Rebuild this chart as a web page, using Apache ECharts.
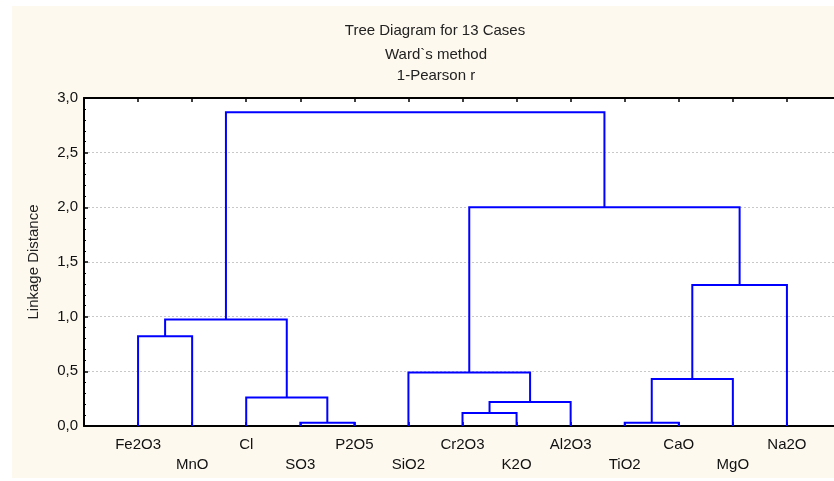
<!DOCTYPE html>
<html>
<head>
<meta charset="utf-8">
<script src="https://cdn.jsdelivr.net/npm/echarts@6/dist/echarts.min.js"></script>
<style>
  html, body { margin: 0; padding: 0; background: #ffffff; }
  #chart { width: 834px; height: 481px; }
</style>
</head>
<body>
<div id="chart"></div>
<script>
// Leaves in dendrogram order
const leaves = ['Fe2O3', 'MnO', 'Cl', 'SO3', 'P2O5', 'SiO2', 'Cr2O3', 'K2O', 'Al2O3', 'TiO2', 'CaO', 'MgO', 'Na2O'];

// Agglomeration steps: ids 0..12 are leaves, each merge creates id 13, 14, ...
const mergeLeft   = [3, 9, 6, 15, 2, 14, 5, 0, 20, 18, 19, 21];
const mergeRight  = [4, 10, 7, 8, 13, 11, 16, 1, 17, 12, 22, 23];
const mergeHeight = [0.03, 0.03, 0.12, 0.22, 0.26, 0.43, 0.49, 0.82, 0.975, 1.29, 2.0, 2.87];

const yTicks = [0, 0.5, 1.0, 1.5, 2.0, 2.5, 3.0];

// Position of every node: leaves sit at 1..n, clusters midway between children
const nodeX = leaves.map((_, i) => i + 1);
const nodeH = leaves.map(() => 0);
const links = [];
mergeLeft.forEach((l, k) => {
  const r = mergeRight[k];
  const h = mergeHeight[k];
  links.push([nodeX[l], nodeH[l], nodeX[r], nodeH[r], h]);
  nodeX.push((nodeX[l] + nodeX[r]) / 2);
  nodeH.push(h);
});

const chart = echarts.init(document.getElementById('chart'), null, { renderer: 'canvas' });
const FONT = 'Liberation Sans, Arial, sans-serif';
const FS = 15;

const gridBox = { left: 84, top: 98, width: 757, height: 328, outerBoundsMode: 'none', containLabel: false };

chart.setOption({
  backgroundColor: '#ffffff',
  animation: false,
  graphic: [
    { type: 'rect', z: -10, shape: { x: 12, y: 6, width: 830, height: 472 }, style: { fill: '#fdf9ef' } },
    { type: 'rect', z: -9, shape: { x: gridBox.left, y: gridBox.top, width: gridBox.width, height: gridBox.height }, style: { fill: '#ffffff' } },
    { type: 'text', x: 435, y: 31, style: { text: 'Tree Diagram for 13 Cases', font: FS + 'px ' + FONT, fill: '#222', align: 'center', verticalAlign: 'middle' } },
    { type: 'text', x: 436, y: 55, style: { text: 'Ward`s method', font: FS + 'px ' + FONT, fill: '#222', align: 'center', verticalAlign: 'middle' } },
    { type: 'text', x: 436, y: 76, style: { text: '1-Pearson r', font: FS + 'px ' + FONT, fill: '#222', align: 'center', verticalAlign: 'middle' } }
  ],
  grid: gridBox,
  xAxis: [
    {
      type: 'value', position: 'bottom', min: 0, max: leaves.length + 1, interval: 1,
      axisLine: { show: true, lineStyle: { color: '#000', width: 2 } },
      axisTick: { show: true, inside: true, length: 4, lineStyle: { color: '#000', width: 1.5 } },
      splitLine: { show: false },
      axisLabel: {
        margin: 9, fontFamily: FONT, fontSize: FS, color: '#111', lineHeight: 20,
        showMinLabel: true, showMaxLabel: true,
        formatter: v => {
          const name = leaves[v - 1];
          if (!name) return '';
          return (v % 2 === 0) ? '\n' + name : name;
        }
      }
    },
    {
      type: 'value', position: 'top', min: 0, max: leaves.length + 1, interval: 1,
      axisLine: { show: true, lineStyle: { color: '#000', width: 2 } },
      axisTick: { show: true, inside: true, length: 4, lineStyle: { color: '#000', width: 1.5 } },
      splitLine: { show: false },
      axisLabel: { show: false }
    }
  ],
  yAxis: {
    type: 'value', min: yTicks[0], max: yTicks[yTicks.length - 1], interval: 0.5,
    name: 'Linkage Distance', nameLocation: 'middle', nameGap: 43, nameRotate: 90,
    nameTextStyle: { fontFamily: FONT, fontSize: FS, color: '#222' },
    axisLine: { show: true, lineStyle: { color: '#000', width: 2 } },
    axisTick: { show: true, inside: true, length: 4, lineStyle: { color: '#000', width: 1.5 } },
    minorTick: { show: true, splitNumber: 5, length: 2, lineStyle: { color: '#000', width: 1 } },
    splitLine: { show: true, lineStyle: { color: '#c8c8c8', type: [2, 2], width: 1 } },
    axisLabel: {
      margin: 6, fontFamily: FONT, fontSize: FS, color: '#111',
      formatter: v => v.toFixed(1).replace('.', ',')
    }
  },
  series: [{
    type: 'custom',
    xAxisIndex: 0,
    data: links,
    clip: false,
    renderItem: (params, api) => {
      const xl = api.value(0), hl = api.value(1), xr = api.value(2), hr = api.value(3), h = api.value(4);
      const pts = [api.coord([xl, hl]), api.coord([xl, h]), api.coord([xr, h]), api.coord([xr, hr])];
      return {
        type: 'polyline',
        shape: { points: pts },
        style: { stroke: '#0000ff', lineWidth: 2, fill: null }
      };
    }
  }]
});
</script>
</body>
</html>
